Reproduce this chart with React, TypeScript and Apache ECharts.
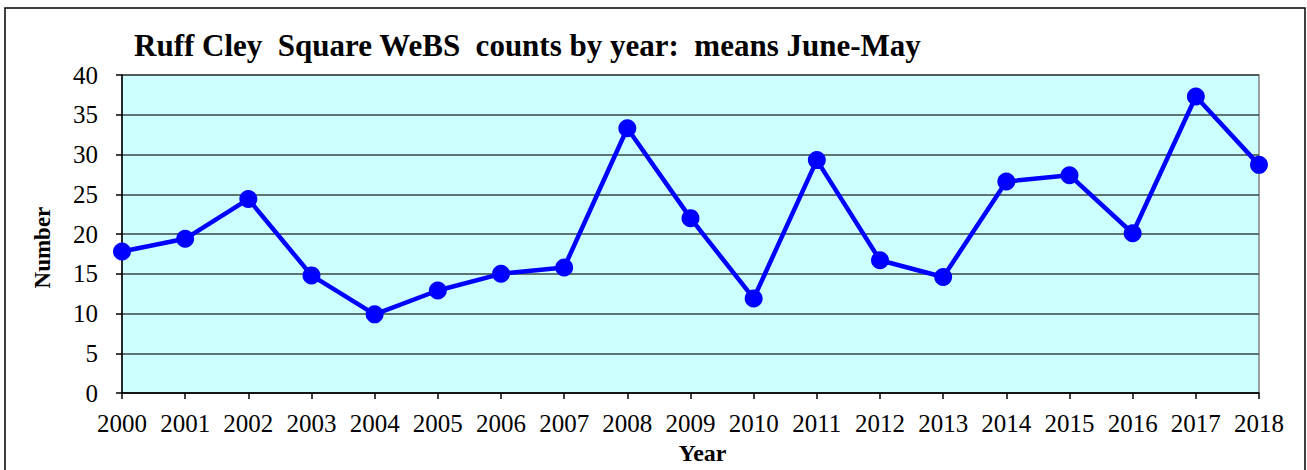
import React, { useEffect, useRef } from "react";
import * as echarts from "echarts";

const years = ["2000","2001","2002","2003","2004","2005","2006","2007","2008","2009","2010","2011","2012","2013","2014","2015","2016","2017","2018"];
const means = [17.8, 19.4, 24.4, 14.8, 9.9, 12.9, 15.0, 15.8, 33.3, 22.0, 11.9, 29.3, 16.7, 14.6, 26.6, 27.4, 20.1, 37.3, 28.7];
const titleText = "Ruff Cley  Square WeBS  counts by year:  means June-May";
const yName = "Number";
const xName = "Year";

const FONT = "'Liberation Serif', 'Times New Roman', serif";

export default function App() {
  const ref = useRef<HTMLDivElement>(null);
  useEffect(() => {
    if (!ref.current) return;
    const chart = echarts.init(ref.current, null, { renderer: "svg" });
    chart.setOption({
      animation: false,
      backgroundColor: "#ffffff",
      textStyle: { fontFamily: FONT },
      title: {
        text: titleText,
        left: 134,
        top: 30,
        padding: 0,
        textStyle: { fontFamily: FONT, fontWeight: "bold", fontSize: 31, color: "#000" },
      },
      grid: { left: 122, right: 48, top: 75, bottom: 72, show: true, backgroundColor: "#CCFFFF", borderColor: "#808080", borderWidth: 1.5 },
      graphic: [
        {
          type: "rect",
          shape: { x: 5, y: 8, width: 1300, height: 480 },
          style: { fill: "none", stroke: "#000", lineWidth: 1.5 },
          z: 100,
        },
      ],
      xAxis: {
        type: "category",
        data: years,
        boundaryGap: false,
        name: xName,
        nameLocation: "middle",
        nameGap: 44,
        nameTextStyle: { fontFamily: FONT, fontWeight: "bold", fontSize: 24, color: "#000", padding: [0, 0, 0, 24] },
        axisLine: { lineStyle: { color: "#000", width: 1.5 } },
        axisTick: { show: true, length: 6, inside: false, interval: 0, alignWithLabel: true, lineStyle: { color: "#000", width: 1.5 } },
        axisLabel: { fontFamily: FONT, fontSize: 25, color: "#000", margin: 18, interval: 0, hideOverlap: false },
        splitLine: { show: false },
      },
      yAxis: {
        type: "value",
        min: 0,
        max: 40,
        interval: 5,
        name: yName,
        nameLocation: "middle",
        nameRotate: 90,
        nameGap: 68,
        nameTextStyle: { fontFamily: FONT, fontWeight: "bold", fontSize: 23, color: "#000", padding: [0, 27, 0, 0] },
        axisLine: { show: true, lineStyle: { color: "#000", width: 1.5 } },
        axisTick: { show: true, length: 6, lineStyle: { color: "#000", width: 1.5 } },
        axisLabel: { fontFamily: FONT, fontSize: 25, color: "#000", margin: 24 },
        splitLine: { show: true, lineStyle: { color: "#3a4444", width: 1.5 } },
      },
      series: [
        {
          type: "line",
          data: means,
          symbol: "circle",
          symbolSize: 18,
          lineStyle: { color: "#0000FF", width: 4.5 },
          itemStyle: { color: "#0000FF" },
          z: 10,
        },
      ],
    });
    return () => chart.dispose();
  }, []);
  return <div ref={ref} style={{ position: "fixed", left: 0, top: 0, width: 1307, height: 470 }} />;
}
